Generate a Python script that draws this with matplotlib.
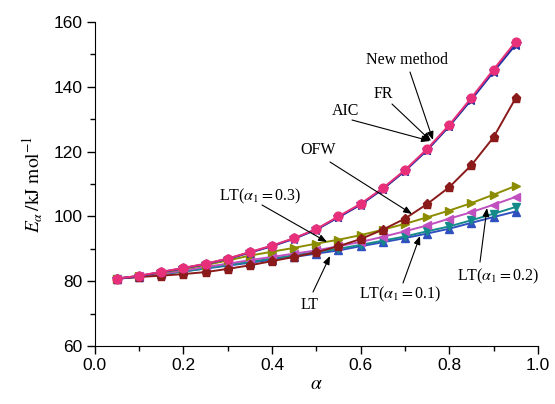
import matplotlib
matplotlib.use("Agg")
import matplotlib.pyplot as plt
from matplotlib.ticker import MultipleLocator

alpha = [0.05, 0.10, 0.15, 0.20, 0.25, 0.30, 0.35, 0.40, 0.45, 0.50,
         0.55, 0.60, 0.65, 0.70, 0.75, 0.80, 0.85, 0.90, 0.95]

new_method = [80.8, 81.7, 82.9, 84.1, 85.4, 87.0, 89.0, 91.0, 93.3, 96.1,
              100.0, 103.9, 108.7, 114.3, 120.8, 128.2, 136.6, 145.3, 153.9]
fr = [80.8, 81.6, 82.8, 84.0, 85.3, 86.9, 88.8, 90.8, 93.1, 95.9,
      99.7, 103.6, 108.4, 114.0, 120.4, 127.8, 136.0, 144.6, 153.0]
aic = [80.8, 81.6, 82.8, 84.0, 85.3, 86.9, 88.9, 90.9, 93.2, 96.0,
       99.8, 103.7, 108.5, 114.1, 120.6, 128.0, 136.2, 144.9, 153.3]
ofw = [80.8, 81.3, 81.7, 82.2, 82.8, 83.8, 84.9, 86.2, 87.5, 88.9,
       90.8, 93.0, 95.9, 99.3, 103.8, 109.0, 115.8, 124.4, 136.5]
lt03 = [80.8, 81.6, 82.6, 83.8, 85.0, 86.4, 87.9, 89.1, 90.3, 91.6,
        92.8, 94.2, 95.9, 97.7, 99.7, 101.8, 104.1, 106.7, 109.4]
lt02 = [80.8, 81.5, 82.3, 83.3, 84.4, 85.4, 86.5, 87.5, 88.5, 89.5,
        90.8, 92.1, 93.7, 95.4, 97.2, 99.3, 101.3, 103.6, 106.0]
lt01 = [80.8, 81.4, 82.2, 83.0, 84.0, 85.0, 86.0, 87.0, 88.0, 89.0,
        90.0, 91.2, 92.5, 93.8, 95.4, 96.9, 98.8, 100.8, 102.9]
lt = [80.7, 81.4, 82.2, 83.0, 83.9, 84.8, 85.7, 86.6, 87.5, 88.5,
      89.5, 90.8, 92.0, 93.3, 94.7, 96.2, 98.0, 99.8, 101.5]

xticks = [0.0, 0.2, 0.4, 0.6, 0.8, 1.0]
yticks = [60, 80, 100, 120, 140, 160]

plt.rcParams['font.family'] = ['Liberation Sans', 'DejaVu Sans']
plt.rcParams['mathtext.fontset'] = 'stix'

fig = plt.figure(figsize=(5.55, 4.04), dpi=100)
ax = fig.add_axes([0.171, 0.1436, 0.798, 0.802])

ms = 6.3
ax.plot(alpha, lt, color='#3050c0', marker='^', ms=ms, lw=1.4, zorder=2)
ax.plot(alpha, lt01, color='#158a8a', marker='v', ms=ms, lw=1.4, zorder=3)
ax.plot(alpha, lt02, color='#c050c0', marker='<', ms=ms, lw=1.4, zorder=4)
ax.plot(alpha, lt03, color='#8c8c00', marker='>', ms=ms, lw=1.4, zorder=5)
ax.plot(alpha, ofw, color='#8b1a1a', marker='p', ms=ms+0.5, lw=1.4, zorder=6)
ax.plot(alpha, aic, color='#6a3fb0', marker='*', ms=ms+1, lw=1.4, zorder=7)
ax.plot(alpha, fr, color='#2030a0', marker='*', ms=ms, lw=1.4, zorder=8)
ax.plot(alpha, new_method, color='#e8307a', marker='o', ms=ms, lw=1.4, zorder=9)

ax.set_xlim(0, 1.0)
ax.set_ylim(60, 160)
ax.set_xticks(xticks)
ax.set_xticklabels([f"{v:.1f}" for v in xticks])
ax.set_yticks(yticks)
ax.xaxis.set_minor_locator(MultipleLocator(0.1))
ax.yaxis.set_minor_locator(MultipleLocator(10))
ax.tick_params(which='major', direction='out', length=6, width=1, labelsize=12.5, pad=3)
ax.tick_params(which='minor', direction='out', length=3.5, width=1)
ax.spines['top'].set_visible(False)
ax.spines['right'].set_visible(False)

ax.set_xlabel(r'$\alpha$', fontsize=14, labelpad=2)
ax.set_ylabel(r'$E_{\alpha}\,/\mathrm{kJ\ mol}^{-1}$', fontsize=14, labelpad=6)

serif = ['Liberation Serif', 'DejaVu Serif']
ap = dict(arrowstyle='-|>,head_length=0.5,head_width=0.2', color='black', lw=0.8,
          shrinkA=0, shrinkB=0)

def px(x, y):
    # pixel coords (from top-left) -> figure fraction
    return (x / 555.0, 1 - y / 404.0)

notes = [
    ("New method", (407, 60), (410, 72), (433, 140)),
    ("FR", (383, 94), (392, 104), (431, 141)),
    ("AIC", (346, 111), (352, 120), (430, 141)),
    ("OFW", (318, 150), (330, 162), (412, 214)),
    (r"LT($\alpha_{\rm 1}$$=$0.3)", (260, 196), (262, 205), (327, 242)),
    ("LT", (310, 305), (313, 292), (330, 256)),
    (r"LT($\alpha_{\rm 1}$$=$0.1)", (400, 294), (403, 283), (420, 236)),
    (r"LT($\alpha_{\rm 1}$$=$0.2)", (498, 276), (480, 262), (487, 208)),
]
for txt, tpos, tail, head in notes:
    fig.text(*px(*tpos), txt, ha='center', va='center', fontsize=11.5, family=serif)
    ax.annotate('', xy=px(*head), xycoords='figure fraction',
                xytext=px(*tail), textcoords='figure fraction', arrowprops=ap, zorder=20)

fig.savefig('out.png', dpi=100)
